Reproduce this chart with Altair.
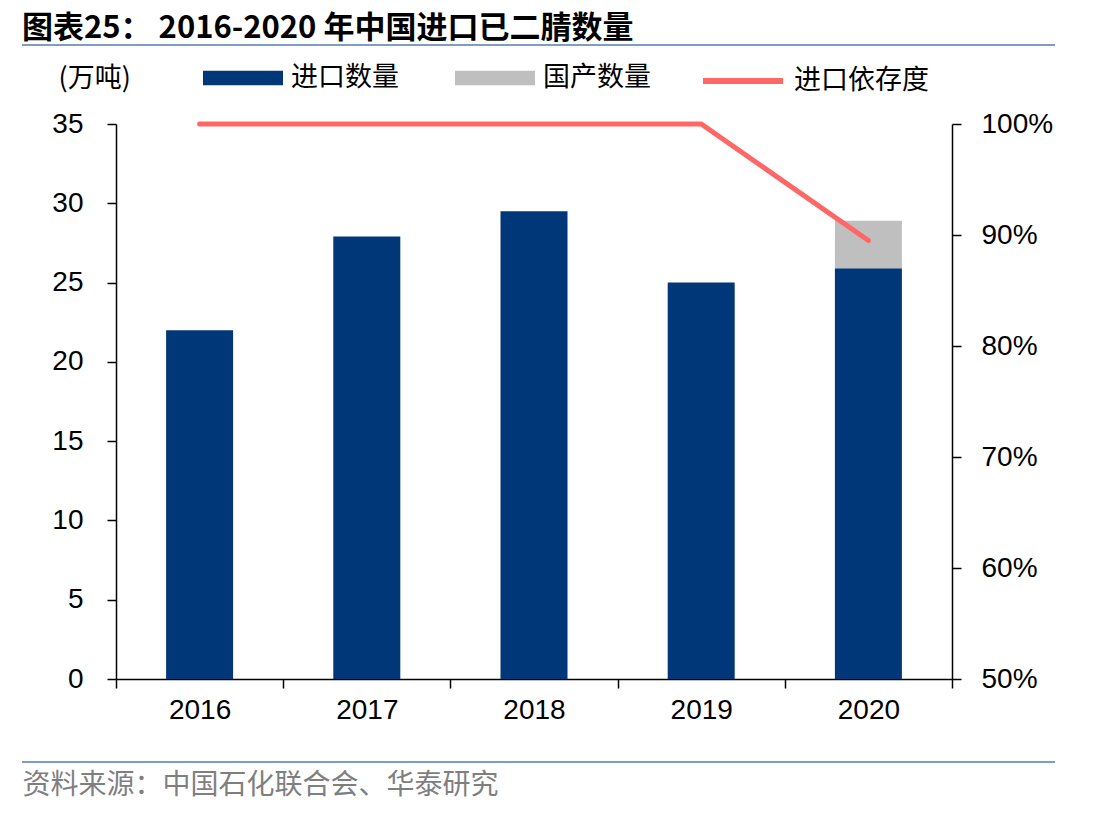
import altair as alt
import pandas as pd

years = ["2016", "2017", "2018", "2019", "2020"]
import_qty = [22.0, 27.9, 29.5, 25.0, 25.9]      # 进口数量 (万吨)
domestic_qty = [0.0, 0.0, 0.0, 0.0, 3.0]         # 国产数量 (万吨)
dependence = [1.0, 1.0, 1.0, 1.0, 0.895]         # 进口依存度

bar_series = ["进口数量", "国产数量"]
bar_colors = ["#003778", "#BFBFBF"]
line_color = "#FF6666"
rule_color = "#7F9CC4"
cjk = "Noto Sans CJK SC"
latin = "Liberation Sans"

bars_df = pd.concat([
    pd.DataFrame({"year": years, "series": bar_series[0], "value": import_qty, "order": 0}),
    pd.DataFrame({"year": years, "series": bar_series[1], "value": domestic_qty, "order": 1}),
])
line_df = pd.DataFrame({"year": years, "series": "进口依存度", "ratio": dependence})

x_enc = alt.X(
    "year:N",
    scale=alt.Scale(paddingInner=0, paddingOuter=0),
    axis=alt.Axis(
        title="资料来源：中国石化联合会、华泰研究",
        titleFont=cjk, titleFontSize=28, titleFontWeight="normal", titleColor="#7F7F7F",
        titleX=-94, titleY=106, titleAlign="left", titleBaseline="middle",
        labelAngle=0, labelFont=latin, labelFontSize=28, labelPadding=8,
        tickBand="extent", tickSize=9,
    ),
)

bars = alt.Chart(bars_df).mark_bar(size=67).encode(
    x=x_enc,
    y=alt.Y(
        "value:Q",
        stack="zero",
        scale=alt.Scale(domain=[0, 35], nice=False),
        axis=alt.Axis(
            values=list(range(0, 36, 5)),
            title="(万吨)", titleFont=cjk, titleFontSize=27, titleFontWeight="normal",
            titleAngle=0, titleX=-58, titleY=-46, titleAlign="left", titleBaseline="middle",
            labelFont=latin, labelFontSize=28, labelPadding=24, tickSize=9,
        ),
    ),
    color=alt.Color(
        "series:N",
        scale=alt.Scale(domain=bar_series, range=bar_colors),
        legend=alt.Legend(
            title=None, orient="none", direction="horizontal", legendX=87, legendY=-86,
            symbolType="M-1,-0.18L1,-0.18L1,0.18L-1,0.18Z", symbolSize=6400,
            symbolStrokeWidth=0, symbolOpacity=1,
            labelFont=cjk, labelFontSize=27, labelOffset=8, columnPadding=56, padding=0,
        ),
    ),
    order=alt.Order("order:Q"),
)

line = alt.Chart(line_df).mark_line(strokeWidth=5, strokeCap="round").encode(
    x=alt.X("year:N"),
    y=alt.Y(
        "ratio:Q",
        scale=alt.Scale(domain=[0.5, 1.0], nice=False),
        axis=alt.Axis(
            orient="right", title=None, format=".0%",
            values=[0.5, 0.6, 0.7, 0.8, 0.9, 1.0],
            labelFont=latin, labelFontSize=28, labelPadding=20, tickSize=9,
        ),
    ),
    stroke=alt.Stroke(
        "series:N",
        scale=alt.Scale(domain=["进口依存度"], range=[line_color]),
        legend=alt.Legend(
            title=None, orient="none", legendX=584, legendY=-86,
            symbolType="stroke", symbolSize=6400, symbolStrokeWidth=6,
            labelFont=cjk, labelFontSize=27, labelOffset=8, padding=0,
        ),
    ),
)

top_rule = alt.Chart(pd.DataFrame({"k": [0]})).mark_rule(color=rule_color, strokeWidth=2).encode(
    x=alt.value(-94), x2=alt.value(939), y=alt.value(-79)
)
bottom_rule = alt.Chart(pd.DataFrame({"k": [0]})).mark_rule(color=rule_color, strokeWidth=2).encode(
    x=alt.value(-94), x2=alt.value(939), y=alt.value(638)
)

chart = (
    alt.layer(bars, line, top_rule, bottom_rule)
    .resolve_scale(y="independent")
    .properties(
        width=836,
        height=555,
        autosize=alt.AutoSizeParams(type="none"),
        padding={"left": 108, "top": 116, "right": 144, "bottom": 129},
        title=alt.TitleParams(
            "图表25：  2016-2020 年中国进口已二腈数量",
            anchor="start", frame="group", dx=-94, dy=11,
            font=cjk, fontSize=31, fontWeight="bold", color="black",
        ),
    )
    .configure_view(stroke=None)
    .configure_axis(
        grid=False, domainColor="black", tickColor="black", domainWidth=1.5, tickWidth=1.5,
        labelColor="black",
    )
)

chart.save("out.html", embed_options={"renderer": "svg", "actions": False})
